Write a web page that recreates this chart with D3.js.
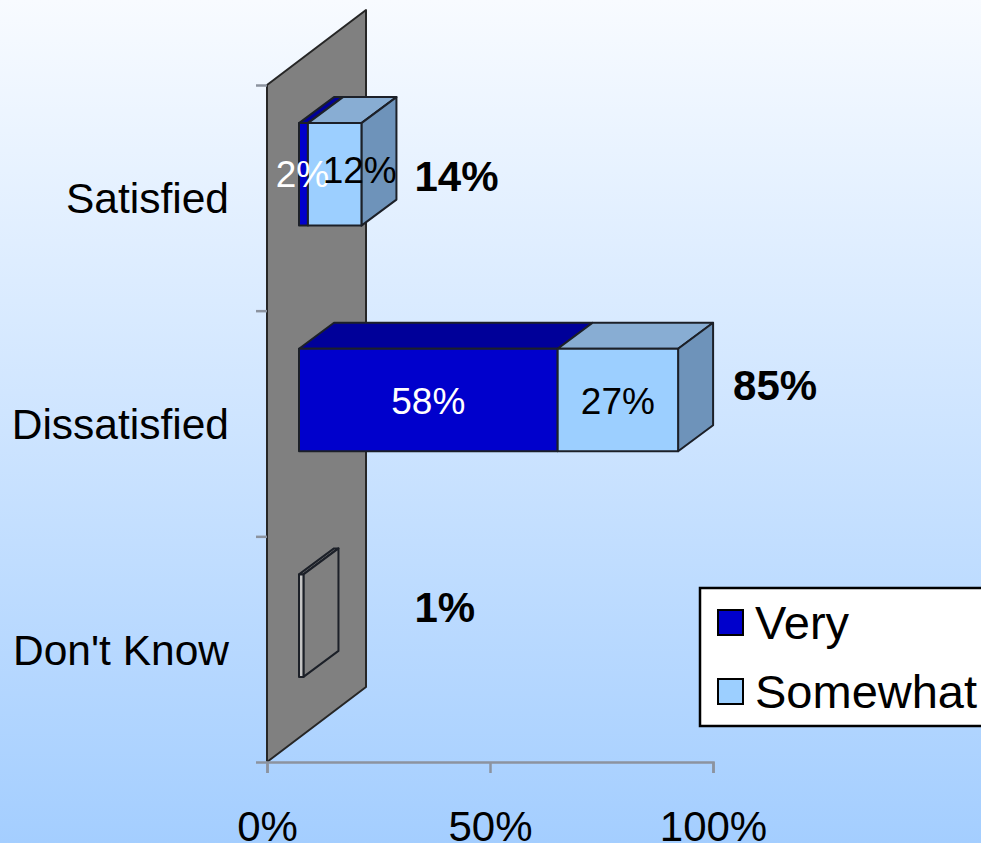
<!DOCTYPE html>
<html><head><meta charset="utf-8">
<script src="https://cdn.jsdelivr.net/npm/d3@7"></script>
<style>html,body{margin:0;padding:0;overflow:hidden}svg{display:block}text{font-family:"Liberation Sans",Arial,sans-serif}</style>
</head><body><div id="chart"></div>
<script>
const categories = ["Satisfied","Dissatisfied","Don't Know"];
const very = [2,58,0];
const somewhat = [12,27,0];
const other = [0,0,1];
const totals = [14,85,1];
const xTicks = [0,50,100];
const legendLabels = ["Very","Somewhat"];

const W=981,H=843;
const svg=d3.select("#chart").append("svg").attr("width",W).attr("height",H);
const defs=svg.append("defs");
const g=defs.append("linearGradient").attr("id","bg").attr("x1",0).attr("y1",0).attr("x2",0).attr("y2",1);
g.append("stop").attr("offset",0).attr("stop-color","#f8fbff");
g.append("stop").attr("offset",1).attr("stop-color","#a4ceff");
svg.append("rect").attr("width",W).attr("height",H).attr("fill","url(#bg)");

const x=d3.scaleLinear().domain([0,100]).range([267,713]);
const y=d3.scaleBand().domain(categories).range([85,762]);
const yEdge=d3.scaleLinear().domain([0,3]).range([85,762]);
const wall={dx:99,dy:-75}, off={dx:32,dy:-24}, depth={dx:35,dy:-26};
const barH=102.5, ink="#1c2028", axisCol="#8c939f";
const poly=(pts,fill,sw=2,stroke=ink)=>svg.append("polygon").attr("points",pts.map(p=>p.join(",")).join(" "))
  .attr("fill",fill).attr("stroke",stroke).attr("stroke-width",sw).attr("stroke-linejoin","round");

// wall
poly([[x(0),y.range()[0]],[x(0)+wall.dx,y.range()[0]+wall.dy],[x(0)+wall.dx,y.range()[1]+wall.dy],[x(0),y.range()[1]]],"#808080",2,"#262626");

// axes
const xAxis=d3.axisBottom(x).tickValues(xTicks).tickFormat(d=>d+"%").tickSize(11).tickPadding(38);
const gx=svg.append("g").attr("transform",`translate(0,${y.range()[1]})`).call(xAxis);
gx.selectAll("path,line").attr("stroke",axisCol).attr("stroke-width",2.5);
gx.selectAll("text").attr("font-size",42).attr("fill","#000").attr("font-family","Liberation Sans");
const yAxis=d3.axisLeft(yEdge).tickValues([0,1,2,3]).tickFormat(i=>"").tickSize(11);
const gy=svg.append("g").attr("transform",`translate(${x(0)},0)`).call(yAxis);
gy.selectAll("line").attr("stroke",axisCol).attr("stroke-width",2.5);
gy.select("path").remove();
svg.selectAll(".cat").data(categories).join("text").attr("class","cat")
  .attr("x",229).attr("y",d=>y(d)+y.bandwidth()/2+15.5).attr("text-anchor","end")
  .attr("font-size",42.5).attr("fill","#000").text(d=>d);

// bars
const faces=(x0,x1,yt,f,t,s,last)=>{
  const a=x(x0)+off.dx,b=x(x1)+off.dx;
  poly([[a,yt],[a+depth.dx,yt+depth.dy],[b+depth.dx,yt+depth.dy],[b,yt]],t);
  if(last) poly([[b,yt],[b+depth.dx,yt+depth.dy],[b+depth.dx,yt+barH+depth.dy],[b,yt+barH]],s);
  poly([[a,yt],[b,yt],[b,yt+barH],[a,yt+barH]],f);
};
categories.forEach((c,i)=>{
  const yt=y(c)+y.bandwidth()/2+off.dy-barH/2+0.5;
  if(very[i]>0) faces(0,very[i],yt,"#0000cc","#000099","#000099",somewhat[i]===0);
  if(somewhat[i]>0) faces(very[i],very[i]+somewhat[i],yt,"#9ccfff","#88add3","#6e93ba",true);
  if(other[i]>0) faces(0,other[i],yt,"#c4c4c4","#808080","#808080",true);
});

// value labels
const yMid=c=>y(c)+y.bandwidth()/2+off.dy;
const label=(tx,ty,t,col,anchor,size=37,w=400)=>svg.append("text").attr("x",tx).attr("y",ty).attr("text-anchor",anchor)
  .attr("fill",col).attr("font-size",size).attr("font-weight",w).text(t);
const barX=v=>x(v)+off.dx;
label(barX(very[0]/2)-1,yMid(categories[0])+13,very[0]+"%","#fff","middle");
label(barX(very[0]+somewhat[0]/2)+25,yMid(categories[0])+9,somewhat[0]+"%","#000","middle");
label(barX(very[1]/2),yMid(categories[1])+14,very[1]+"%","#fff","middle");
label(barX(very[1]+somewhat[1]/2),yMid(categories[1])+14,somewhat[1]+"%","#000","middle");
const totalDy=[17,0,-3], totalDx=[18,20,18];
categories.forEach((c,i)=>label(barX(Math.max(totals[i],14))+depth.dx+totalDx[i],yMid(c)+totalDy[i],totals[i]+"%","#000","start",42,700));

// legend
svg.append("rect").attr("x",700).attr("y",588).attr("width",290).attr("height",138).attr("fill","#fff").attr("stroke","#000").attr("stroke-width",2.5);
const swatchY=[610,679], textY=[639,708], colors=["#0000cc","#9ccfff"];
legendLabels.forEach((t,i)=>{
  svg.append("rect").attr("x",718).attr("y",swatchY[i]).attr("width",25).attr("height",25).attr("fill",colors[i]).attr("stroke","#000").attr("stroke-width",2);
  svg.append("text").attr("x",755).attr("y",textY[i]).attr("font-size",47).attr("fill","#000").text(t);
});
</script></body></html>
